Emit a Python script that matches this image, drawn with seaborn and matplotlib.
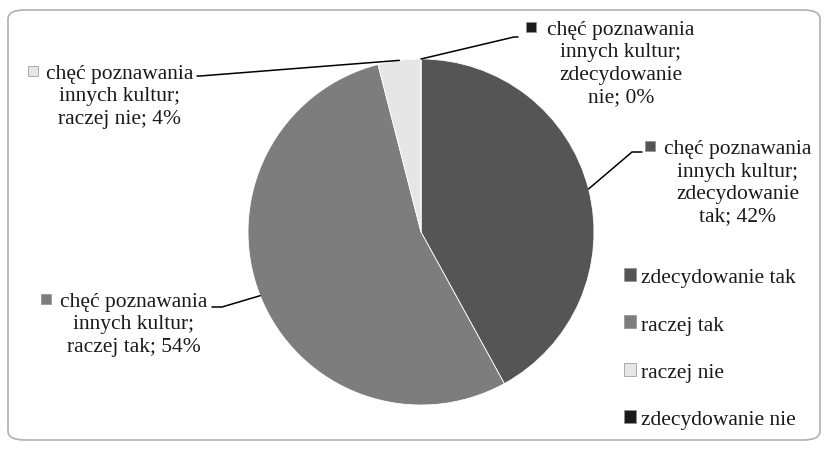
import numpy as np
import seaborn as sns
import matplotlib.pyplot as plt
from matplotlib.patches import FancyBboxPatch, Patch

categories = ["zdecydowanie tak", "raczej tak", "raczej nie", "zdecydowanie nie"]
values = [42, 54, 4, 0]
prefix = "chęć poznawania\ninnych kultur;\n"
label_texts = [prefix + "zdecydowanie\ntak; 42%",
               prefix + "raczej tak; 54%",
               prefix + "raczej nie; 4%",
               prefix + "zdecydowanie\nnie; 0%"]
colors = ["#555555", "#7d7d7d", "#e6e6e6", "#1a1a1a"]

sns.set_theme(style="white")
plt.rcParams["font.family"] = ["Liberation Serif", "DejaVu Serif"]

W, H = 828, 452
fig = plt.figure(figsize=(W / 100, H / 100), dpi=100)
ax = fig.add_axes([0, 0, 1, 1])

cx, cy, r = 421, H - 233, 173
wedges, _ = ax.pie(values, colors=colors, startangle=90, counterclock=False,
                   center=(cx, cy), radius=r,
                   wedgeprops=dict(edgecolor="white", linewidth=0.6))
ax.set_xlim(0, W)
ax.set_ylim(0, H)
ax.set_aspect("equal")
ax.axis("off")

# rounded frame
fig.patches.append(FancyBboxPatch((8 / W, 11 / H), 812 / W, 430 / H,
                                  boxstyle="round,pad=0,rounding_size=0.02",
                                  transform=fig.transFigure, fill=False,
                                  edgecolor="#b0b0b0", linewidth=1.2))

# label layout: (square x, square y in px), text centre x, elbow points
layout = [
    ((650, 147), 738, [(632, 153), (642, 153)]),
    ((46, 300), 134, [(222, 308), (212, 308)]),
    ((33, 72), 120, [(200, 77), (197, 77)]),
    ((531, 28), 621, [(514, 38), (518, 38)]),
]

start = 90
total = sum(values)
for val, txt, col, (sq, tx, elbow) in zip(values, label_texts, colors, layout):
    span = 360 * val / total
    mid = np.deg2rad(start - span / 2)
    start -= span
    ex, ey = cx + r * np.cos(mid), cy + r * np.sin(mid)
    xs = [ex] + [p[0] for p in elbow]
    ys = [ey] + [H - p[1] for p in elbow]
    ax.plot(xs, ys, color="black", linewidth=1.1)
    ax.plot(sq[0], H - sq[1], marker="s", markersize=7, color=col,
            markeredgecolor="#909090", markeredgewidth=0.5)
    ax.text(tx, H - sq[1] + 7, txt, ha="center", va="top", fontsize=15.5,
            linespacing=1.25, color="#1a1a1a")

handles = [Patch(facecolor=c, edgecolor="#909090", linewidth=0.5) for c in colors]
ax.legend(handles, categories, loc="upper left", bbox_to_anchor=(605 / W, 1 - 250 / H),
          bbox_transform=fig.transFigure, frameon=False, fontsize=15.5,
          handlelength=0.55, handleheight=0.55, handletextpad=0.2, labelspacing=1.3,
          labelcolor="#1a1a1a")

fig.savefig("out.png", dpi=100)
